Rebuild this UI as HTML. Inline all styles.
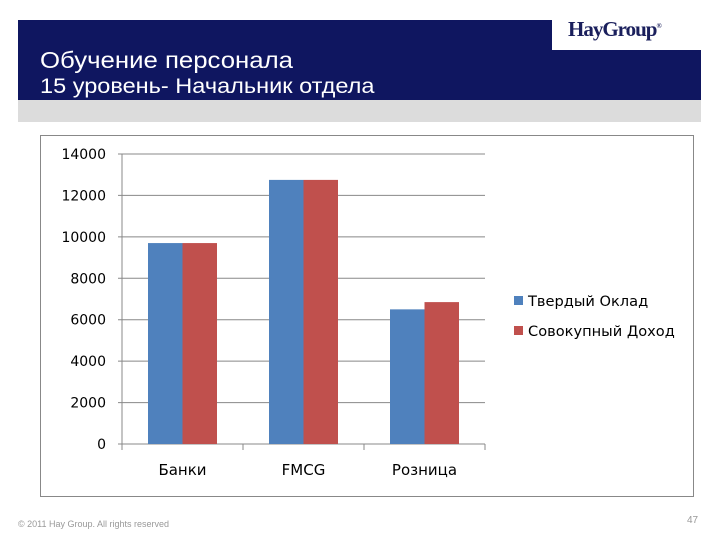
<!DOCTYPE html>
<html><head><meta charset="utf-8"><style>
body{margin:0;width:720px;height:540px;background:#fff;position:relative;overflow:hidden;font-family:"Liberation Sans",sans-serif}
.a{position:absolute}
</style></head><body>
<div class="a" style="left:18px;top:20px;width:683px;height:80px;background:#0f1660"></div>
<div class="a" style="left:552px;top:20px;width:149px;height:30px;background:#fff"></div>
<div class="a" style="left:568px;top:17px;font-family:'Liberation Serif',serif;font-weight:bold;font-size:21px;color:#1a1f5c;letter-spacing:-1px">HayGroup<sup style="font-size:7px">®</sup></div>
<div class="a" style="left:40px;top:47px;font-size:23px;color:#fff;transform:scaleX(1.12);transform-origin:left top;white-space:nowrap">Обучение персонала</div>
<div class="a" style="left:40px;top:75px;font-size:21px;color:#fff;transform:scaleX(1.12);transform-origin:left top;white-space:nowrap">15 уровень- Начальник отдела</div>
<div class="a" style="left:18px;top:100px;width:683px;height:22px;background:#dcdcdc"></div>
<div class="a" style="left:40px;top:135px;width:654px;height:362px;border:1px solid #888;box-sizing:border-box"></div>
<svg class="a" style="left:0;top:0" width="720" height="540" id="c"></svg>
<div class="a" style="left:18px;top:519px;font-size:9px;color:#999">© 2011 Hay Group. All rights reserved</div>
<div class="a" style="left:687px;top:515px;font-size:10px;color:#999">47</div>
<script>
const categories=["Банки","FMCG","Розница"];
const seriesNames=["Твердый Оклад","Совокупный Доход"];
const base=[9700,12750,6500];
const total=[9700,12750,6850];
const ticks=[0,2000,4000,6000,8000,10000,12000,14000];
const colors=["#4f81bd","#c0504d"];
const svg=document.getElementById('c');const NS="http://www.w3.org/2000/svg";
const x0=122,x1=485,y0=444,y1=154,ymax=14000;
const y=v=>y0-(v/ymax)*(y0-y1);
const cw=(x1-x0)/categories.length;
function el(t,a,p){const e=document.createElementNS(NS,t);for(const k in a)e.setAttribute(k,a[k]);(p||svg).appendChild(e);return e;}
ticks.forEach(t=>{
 const g=el('line',{x1:x0-4,x2:x1,y1:y(t),y2:y(t),stroke:'#888','stroke-width':1});
 
 
 const tx=el('text',{x:x0-16,y:y(t)+5,'text-anchor':'end','font-size':14,fill:'#000','font-family':'DejaVu Sans, sans-serif'});tx.textContent=t;
 
 
});
el('line',{x1:x0,x2:x0,y1:y1,y2:y0+6,stroke:'#888'});
for(let i=0;i<=categories.length;i++){el('line',{x1:x0+i*cw,x2:x0+i*cw,y1:y0,y2:y0+6,stroke:'#888'});}
const bw=34.5;
[base,total].forEach((s,si)=>{
 s.forEach((v,i)=>{
  const cx=x0+cw*(i+0.5);
  const r=el('rect',{x:cx-bw+si*bw,y:y(v),width:bw,height:y0-y(v),fill:colors[si]});
  
  
 });
});
categories.forEach((c,i)=>{
 const t=el('text',{x:x0+cw*(i+0.5),y:475,'text-anchor':'middle','font-size':15,'font-family':'DejaVu Sans, sans-serif'});t.textContent=c;
 
 
});
seriesNames.forEach((n,i)=>{
 const yy=301+i*30;
 const r=el('rect',{x:514,y:yy-5,width:9,height:9,fill:colors[i]});
 
 
 const t=el('text',{x:528,y:yy+5,'font-size':14.6,'font-family':'DejaVu Sans, sans-serif'});t.textContent=n;
 
 
});
</script>
</body></html>
